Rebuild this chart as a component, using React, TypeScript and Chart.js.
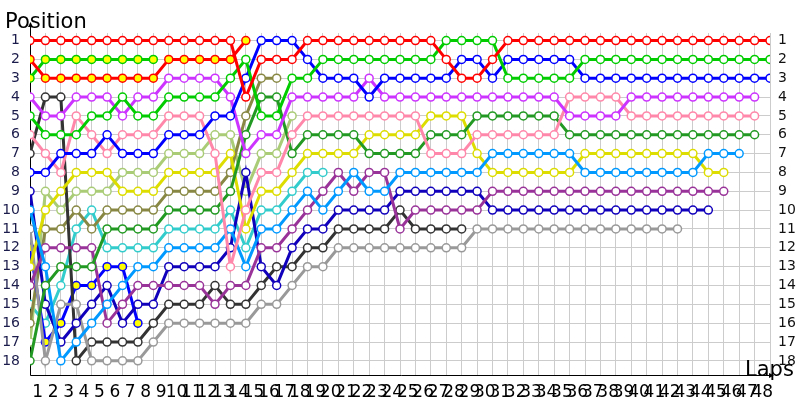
import React, { useEffect, useRef } from 'react';
import { Chart, registerables } from 'chart.js';

Chart.register(...registerables);

// Lap indices 0..48 (0 = starting grid), tick labels for laps
const lapTicks = [0,1,2,3,4,5,6,7,8,9,10,11,12,13,14,15,16,17,18,19,20,21,22,23,24,25,26,27,28,29,30,31,32,33,34,35,36,37,38,39,40,41,42,43,44,45,46,47,48];
const positionTicks = [1,2,3,4,5,6,7,8,9,10,11,12,13,14,15,16,17,18];

// Positions per lap (index = lap number, starting at lap 0)
const redW = [1,1,1,1,1,1,1,1,1,1,1,1,1,1,4,2,2,2,1,1,1,1,1,1,1,1,1,2,3,3,2,1,1,1,1,1,1,1,1,1,1,1,1,1,1,1,1,1,1];
const redY = [2,3,3,3,3,3,3,3,3,2,2,2,2,2,1];
const greenW = [5,6,6,6,5,5,4,5,5,4,4,4,4,3,2,5,5,3,3,2,2,2,2,2,2,2,2,1,1,1,1,3,3,3,3,3,2,2,2,2,2,2,2,2,2,2,2,2,2];
const greenY = [3,2,2,2,2,2,2,2,2];
const blueW = [8,8,7,7,7,6,7,7,7,6,6,6,5,5,3,1,1,1,2,3,3,3,4,3,3,3,3,3,2,2,3,2,2,2,2,2,3,3,3,3,3,3,3,3,3,3,3,3,3];
const blueY = [12,17,16,14,14,13,13,16];
const violet = [4,5,5,4,4,4,5,4,4,3,3,3,3,4,7,6,6,4,4,4,4,4,3,4,4,4,4,4,4,4,4,4,4,4,4,5,5,5,5,4,4,4,4,4,4,4,4,4];
const pink = [6,7,8,5,6,7,6,6,6,5,5,5,7,13,10,8,8,6,5,5,5,5,5,5,5,5,7,7,7,6,6,6,6,6,6,4,4,4,4,5,5,5,5,5,5,5,5,5];
const darkGreen = [18,14,13,13,13,11,11,11,11,10,10,10,10,9,6,4,4,7,6,6,6,6,7,7,7,7,6,6,6,5,5,5,5,5,5,6,6,6,6,6,6,6,6,6,6,6,6,6];
const lightBlue = [10,13,18,17,16,15,14,13,13,12,12,12,12,11,13,11,11,10,9,10,9,8,9,9,8,8,8,8,8,8,7,7,7,7,7,7,8,8,8,8,8,8,8,8,7,7,7];
const yellow = [13,10,9,8,8,8,9,9,9,8,8,8,8,7,11,9,9,8,7,7,7,7,6,6,6,6,5,5,5,7,8,8,8,8,8,8,7,7,7,7,7,7,7,7,8,8];
const purple = [14,12,12,12,12,16,15,14,14,14,14,14,15,14,14,12,12,11,10,9,8,9,8,8,11,10,10,10,10,10,9,9,9,9,9,9,9,9,9,9,9,9,9,9,9,9];
const navy = [9,15,17,16,15,14,16,15,15,13,13,13,13,12,8,13,14,12,11,11,10,10,10,10,9,9,9,9,9,9,10,10,10,10,10,10,10,10,10,10,10,10,10,10,10];
const lightGray = [11,18,15,15,18,18,18,18,17,16,16,16,16,16,16,15,15,14,13,13,12,12,12,12,12,12,12,12,12,11,11,11,11,11,11,11,11,11,11,11,11,11,11];
const darkGray = [7,4,4,18,17,17,17,17,16,15,15,15,14,15,15,14,13,13,12,12,11,11,11,11,10,11,11,11,11];
const olive = [16,11,11,10,11,10,10,10,10,9,9,9,9,8,5,3,3];
const lightGreen = [17,9,10,9,9,9,8,8,8,7,7,7,6,6,9,7,7,5];
const cyan = [15,16,14,11,10,12,12,12,12,11,11,11,11,10,12,10,10,9,8,8];

const WHITE = '#ffffff';
const YEL = '#ffff00';

const series = [
  { name: 'redW', pos: redW, color: '#ff0000', fill: WHITE },
  { name: 'greenW', pos: greenW, color: '#00cc00', fill: WHITE },
  { name: 'blueW', pos: blueW, color: '#0000ff', fill: WHITE },
  { name: 'violet', pos: violet, color: '#cc33ff', fill: WHITE },
  { name: 'pink', pos: pink, color: '#ff88aa', fill: WHITE },
  { name: 'darkGreen', pos: darkGreen, color: '#229922', fill: WHITE },
  { name: 'lightBlue', pos: lightBlue, color: '#0099ff', fill: WHITE },
  { name: 'yellow', pos: yellow, color: '#dddd00', fill: WHITE },
  { name: 'purple', pos: purple, color: '#993399', fill: WHITE },
  { name: 'navy', pos: navy, color: '#1100bb', fill: WHITE },
  { name: 'lightGray', pos: lightGray, color: '#999999', fill: WHITE },
  { name: 'darkGray', pos: darkGray, color: '#333333', fill: WHITE },
  { name: 'redY', pos: redY, color: '#ff0000', fill: YEL },
  { name: 'greenY', pos: greenY, color: '#00cc00', fill: YEL },
  { name: 'blueY', pos: blueY, color: '#0000ff', fill: YEL },
  { name: 'olive', pos: olive, color: '#888844', fill: WHITE },
  { name: 'lightGreen', pos: lightGreen, color: '#aacc77', fill: WHITE },
  { name: 'cyan', pos: cyan, color: '#33cccc', fill: WHITE },
];

const FONT = "'DejaVu Sans'";

const axisPlugin = {
  id: 'lapAxes',
  beforeDatasetsDraw(chart: any) {
    const { ctx, chartArea: a } = chart;
    ctx.save();
    ctx.strokeStyle = '#000';
    ctx.lineWidth = 1;
    ctx.beginPath();
    ctx.moveTo(a.left + 0.5, 24);
    ctx.lineTo(a.left + 0.5, a.bottom + 0.5);
    ctx.lineTo(a.right + 3, a.bottom + 0.5);
    ctx.stroke();
    ctx.fillStyle = '#000';
    ctx.beginPath();
    ctx.moveTo(a.right + 4, a.bottom + 0.5);
    ctx.lineTo(a.right - 1, a.bottom - 2);
    ctx.lineTo(a.right - 1, a.bottom + 3);
    ctx.closePath();
    ctx.fill();
    ctx.beginPath();
    ctx.moveTo(a.left + 0.5, 22);
    ctx.lineTo(a.left - 2, 27);
    ctx.lineTo(a.left + 3, 27);
    ctx.closePath();
    ctx.fill();
    ctx.restore();
  },
  afterDraw(chart: any) {
    const { ctx } = chart;
    ctx.save();
    ctx.fillStyle = '#000';
    ctx.font = `21px ${FONT}`;
    ctx.textBaseline = 'alphabetic';
    ctx.textAlign = 'left';
    ctx.fillText('Position', 5, 28);
    ctx.fillText('Laps', 745, 376);
    ctx.restore();
  },
};

export default function App() {
  const ref = useRef<HTMLCanvasElement>(null);
  useEffect(() => {
    const canvas = ref.current;
    if (!canvas) return;
    const yScale = (side: 'left' | 'right') => ({
      type: 'linear' as const,
      position: side,
      reverse: true,
      min: 0.6,
      max: 18.75,
      afterBuildTicks: (s: any) => { s.ticks = positionTicks.map((v) => ({ value: v })); },
      afterFit: (s: any) => { s.width = 30; },
      border: { display: false },
      grid: side === 'left'
        ? { color: '#cccccc', lineWidth: 1, drawTicks: false }
        : { display: false, drawOnChartArea: false, drawTicks: false },
      ticks: {
        autoSkip: false,
        padding: side === 'left' ? 10 : 8,
        color: side === 'left' ? '#1c1c4c' : '#111111',
        font: { family: FONT, size: 14 },
        callback: (v: any) => String(v),
      },
    });
    const chart = new Chart(canvas, {
      type: 'line',
      data: {
        datasets: series.map((s) => ({
          label: s.name,
          data: s.pos.map((p, i) => ({ x: lapTicks[i], y: p })),
          borderColor: s.color,
          backgroundColor: s.color,
          borderWidth: 3,
          pointRadius: 4,
          pointBorderWidth: 1.5,
          pointBackgroundColor: s.fill,
          pointBorderColor: s.color,
          tension: 0,
          fill: false,
        })),
      },
      options: {
        responsive: false,
        animation: false,
        layout: { padding: { top: 33, left: 0, right: 0, bottom: 0 } },
        plugins: { legend: { display: false }, tooltip: { enabled: false }, title: { display: false } },
        scales: {
          x: {
            type: 'linear',
            min: 0,
            max: 48,
            afterBuildTicks: (s: any) => { s.ticks = lapTicks.map((v) => ({ value: v })); },
            afterFit: (s: any) => { s.height = 25; },
            border: { display: false },
            grid: { color: '#cccccc', lineWidth: 1, drawTicks: false },
            ticks: {
              autoSkip: false,
              maxRotation: 0,
              minRotation: 0,
              padding: 7,
              labelOffset: -7.7,
              color: '#000000',
              font: { family: FONT, size: 17 },
              callback: (v: any) => (v === 0 ? '' : String(v)),
            },
          },
          y: yScale('left') as any,
          y2: yScale('right') as any,
        },
      },
      plugins: [axisPlugin],
    });
    return () => chart.destroy();
  }, []);
  return (
    <div style={{ position: 'absolute', left: 0, top: 0, width: 800, height: 400, background: '#fff' }}>
      <canvas ref={ref} width={800} height={400} style={{ width: 800, height: 400, display: 'block' }} />
    </div>
  );
}
